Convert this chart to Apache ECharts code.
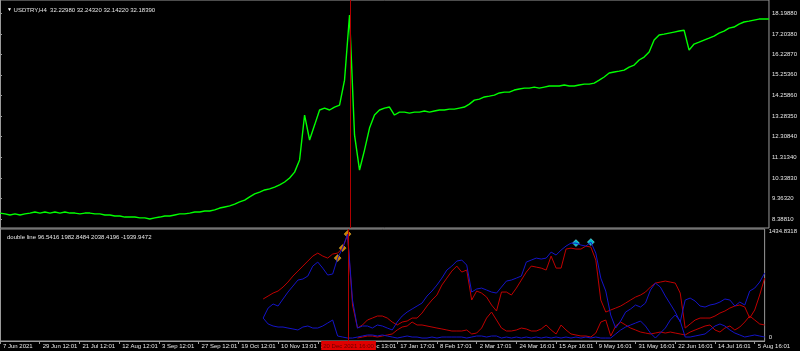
<!DOCTYPE html>
<html><head><meta charset="utf-8">
<script src="https://cdn.jsdelivr.net/npm/echarts@6/dist/echarts.min.js"></script>
<style>html,body{margin:0;padding:0;background:#000;}#c{width:800px;height:351px;}</style>
</head><body><div id="c"></div>
<script>
// ---- data ----
const timeLabels = ["7 Jun 2021","29 Jun 12:01","21 Jul 12:01","12 Aug 12:01","3 Sep 12:01","27 Sep 12:01","19 Oct 12:01","10 Nov 13:01","2 Dec 13:01","24 Dec 13:01","17 Jan 17:01","8 Feb 17:01","2 Mar 17:01","24 Mar 16:01","15 Apr 16:01","9 May 16:01","31 May 16:01","22 Jun 16:01","14 Jul 16:01","5 Aug 16:01"];
const barsPerLabel = 8;
const priceTicks = [8.3881,9.3632,10.3383,11.3134,12.3084,13.2835,14.2586,15.2536,16.2287,17.2038,18.1988];
const price = [
8.67,8.63,8.58,8.63,8.58,8.63,8.67,8.72,8.67,8.72,
8.67,8.72,8.67,8.72,8.67,8.67,8.63,8.67,8.67,8.63,
8.63,8.58,8.58,8.53,8.53,8.48,8.48,8.48,8.44,8.44,
8.39,8.44,8.48,8.53,8.53,8.58,8.63,8.63,8.67,8.72,
8.72,8.77,8.77,8.82,8.91,8.96,9.01,9.10,9.20,9.29,
9.44,9.58,9.67,9.77,9.82,9.91,10.01,10.15,10.34,10.62,
11.20,13.34,12.15,12.86,13.58,13.67,13.58,13.72,13.81,15.00,
18.10,12.39,10.72,11.67,12.72,13.34,13.58,13.67,13.72,13.34,
13.48,13.48,13.43,13.48,13.48,13.53,13.48,13.53,13.58,13.58,
13.62,13.62,13.67,13.72,13.86,14.05,14.10,14.20,14.24,14.29,
14.39,14.43,14.43,14.53,14.58,14.62,14.62,14.67,14.62,14.67,
14.72,14.72,14.72,14.77,14.72,14.72,14.77,14.81,14.81,14.86,
15.00,15.15,15.34,15.39,15.43,15.48,15.62,15.72,15.96,16.10,
16.34,16.91,17.15,17.19,17.24,17.29,17.34,17.38,16.43,16.72,
16.81,16.91,17.00,17.10,17.24,17.34,17.48,17.53,17.67,17.77,
17.81,17.86,17.91,17.91,17.91];
const indicatorStart = 53;
const blueHi = [
294,422,474,448,538,627,704,781,794,832,960,1011,934,845,858,1062,1190,1370,
525,166,192,192,166,205,192,166,141,243,
320,371,410,448,486,576,640,717,806,909,
960,1024,1037,973,627,666,678,653,627,614,
691,768,781,806,832,1011,1037,1062,1050,1062,
1139,1101,1165,1216,1254,1254,1229,1216,1267,1126,
806,640,333,166,256,371,410,461,435,486,
653,742,691,576,474,371,243,525,550,512,
448,435,461,474,499,538,525,448,499,461,
640,678,755,870];
const blueLo = [
294,218,192,179,179,166,154,141,179,192,166,166,192,230,269,64,51,38,
38,51,64,77,77,64,77,64,51,38,
51,64,51,51,38,38,51,38,51,51,
51,51,51,38,51,64,64,51,64,64,
38,51,38,51,38,51,38,51,38,51,
38,51,38,51,38,51,38,51,38,51,
38,38,38,90,141,179,205,230,256,192,
102,38,102,166,269,333,256,51,51,64,
77,90,141,192,218,192,141,102,77,51,
64,77,64,51];
const redHi = [
538,576,614,640,691,755,832,896,960,1024,1088,1126,1088,1062,1114,1126,1190,1357,
461,166,205,269,294,320,320,294,243,205,
243,256,294,294,358,448,525,589,717,806,
896,960,883,909,525,640,614,563,461,384,
627,627,589,678,781,883,960,947,934,909,
1088,934,934,1178,1190,1178,1178,1216,1203,1037,
525,371,397,422,448,486,525,563,589,627,
691,742,755,768,755,742,614,166,218,269,
294,294,294,320,358,384,422,448,461,435,
294,397,589,806];
const redLo = [
null,null,null,null,null,null,null,null,null,null,null,null,null,null,null,null,null,null,null,
38,51,64,64,51,64,77,90,141,
179,192,243,205,205,192,179,166,154,141,
128,128,128,141,90,102,166,294,371,269,
166,128,128,141,166,154,128,128,154,205,
141,90,205,141,90,77,64,64,51,102,
243,269,64,192,243,205,166,141,115,102,
90,102,115,102,115,102,90,77,115,141,
166,192,205,141,115,166,192,141,179,243,
320,269,218,205];
const orangeMarks = [68,69,70];
const cyanMarks = [116,119];
const vlineIndex = 70.2;
const vlineLabel = "20 Dec 2021 16:00";
const subMax = 1434.8318;
const subTickLabels = ["0","1434.8318"];
const mainTitle = "USDTRY,H4  32.22980 32.24320 32.14220 32.18390";
const subTitle = "double line 96.5416 1982.8484 2038.4196 -1939.9472";

// ---- build ----
const lastIndex = price.length - 1;
function toPairs(arr, start){
  const out = [];
  arr.forEach((v,i)=>{ if(v!==null && v!==undefined) out.push([i+start, v]); });
  return out;
}
function full(arr){ const f = new Array(price.length).fill(null); arr.forEach((v,i)=>{f[i+indicatorStart]=v;}); return f; }
const blueHiFull = full(blueHi);

const FONT = 'Liberation Sans';
const GRAY = '#9a9a9a';
const TXT = '#e6e6e6';

const chart = echarts.init(document.getElementById('c'), null, {renderer:'canvas'});
const lineBase = {type:'line', showSymbol:false, animation:false, smooth:false};
const vline = (withLabel) => ({
  silent:true, symbol:['none','none'], animation:false,
  lineStyle:{color:'#b00000', width:1, type:'solid'},
  label: withLabel ? {show:true, position:'start', formatter: vlineLabel, backgroundColor:'#e00000', color:'#6a0000', fontSize:6, fontFamily:FONT, padding:[2,2,1,2], distance:0} : {show:false},
  data:[{xAxis: vlineIndex}]
});

chart.setOption({
  backgroundColor:'#000000',
  animation:false,
  title:[
    {text:'{t|▼} ' + mainTitle, left:2, top:2, textStyle:{color:TXT, fontSize:6, fontFamily:FONT, fontWeight:'normal', rich:{t:{fontSize:5, color:'#ffffff'}}}},
    {text:subTitle, left:2, top:229, textStyle:{color:TXT, fontSize:6, fontFamily:FONT, fontWeight:'normal'}}
  ],
  grid:[
    {left:-2, right:29, top:0, height:228, show:true, borderColor:GRAY, borderWidth:1, backgroundColor:'transparent'},
    {left:-2, right:29, top:229, height:112, show:true, borderColor:GRAY, borderWidth:1, backgroundColor:'transparent'}
  ],
  xAxis:[
    {gridIndex:0, type:'value', min:0, max:lastIndex, show:false, splitLine:{show:false}},
    {gridIndex:1, type:'value', min:0, max:lastIndex, splitLine:{show:false},
     axisLine:{show:true, lineStyle:{color:GRAY}},
     axisTick:{show:true, customValues: timeLabels.map((_,i)=>i*barsPerLabel), length:3, lineStyle:{color:GRAY}},
     axisLabel:{customValues: timeLabels.map((_,i)=>i*barsPerLabel), formatter:(v)=>timeLabels[Math.round(v/barsPerLabel)],
       color:TXT, fontSize:6, fontFamily:FONT, align:'left', padding:[0,0,0,3], margin:2}}
  ],
  yAxis:[
    {gridIndex:0, type:'value', position:'right', min:7.959, max:18.818, splitLine:{show:false},
     axisLine:{show:true, lineStyle:{color:GRAY}},
     axisTick:{show:true, customValues: priceTicks, length:2, lineStyle:{color:GRAY}},
     axisLabel:{customValues: priceTicks, formatter:(v)=>v.toFixed(5), color:TXT, fontSize:6, fontFamily:FONT, margin:3}},
    {gridIndex:1, type:'value', position:'right', min:0, max:subMax, splitLine:{show:false},
     axisLine:{show:true, lineStyle:{color:GRAY}},
     axisTick:{show:false},
     axisLabel:{customValues:[subMax*3.5/112, subMax - subMax*2.5/112], formatter:(v)=> v < subMax/2 ? subTickLabels[0] : subTickLabels[1],
       color:TXT, fontSize:6, fontFamily:FONT, margin:4}}
  ],
  series:[
    Object.assign({}, lineBase, {name:'USDTRY', xAxisIndex:0, yAxisIndex:0, data: toPairs(price,0),
      lineStyle:{color:'#00ff00', width:1.4}, markLine: vline(false)}),
    Object.assign({}, lineBase, {name:'redLo', xAxisIndex:1, yAxisIndex:1, data: toPairs(redLo,indicatorStart), lineStyle:{color:'#c00000', width:1}}),
    Object.assign({}, lineBase, {name:'redHi', xAxisIndex:1, yAxisIndex:1, data: toPairs(redHi,indicatorStart), lineStyle:{color:'#c00000', width:1}}),
    Object.assign({}, lineBase, {name:'blueLo', xAxisIndex:1, yAxisIndex:1, data: toPairs(blueLo,indicatorStart), lineStyle:{color:'#1414c8', width:1}}),
    Object.assign({}, lineBase, {name:'blueHi', xAxisIndex:1, yAxisIndex:1, data: toPairs(blueHi,indicatorStart), lineStyle:{color:'#1414c8', width:1}, markLine: vline(true)}),
    {type:'scatter', xAxisIndex:1, yAxisIndex:1, symbol:'diamond', symbolSize:7, animation:false,
     itemStyle:{color:'#ffa000', borderColor:'#ffd040', borderWidth:0.5},
     data: orangeMarks.map(i=>[i, blueHiFull[i]])},
    {type:'scatter', xAxisIndex:1, yAxisIndex:1, symbol:'diamond', symbolSize:7, animation:false,
     itemStyle:{color:'#00e8ff', borderColor:'#bfffff', borderWidth:0.5},
     data: cyanMarks.map(i=>[i, blueHiFull[i]])}
  ]
});
</script></body></html>
